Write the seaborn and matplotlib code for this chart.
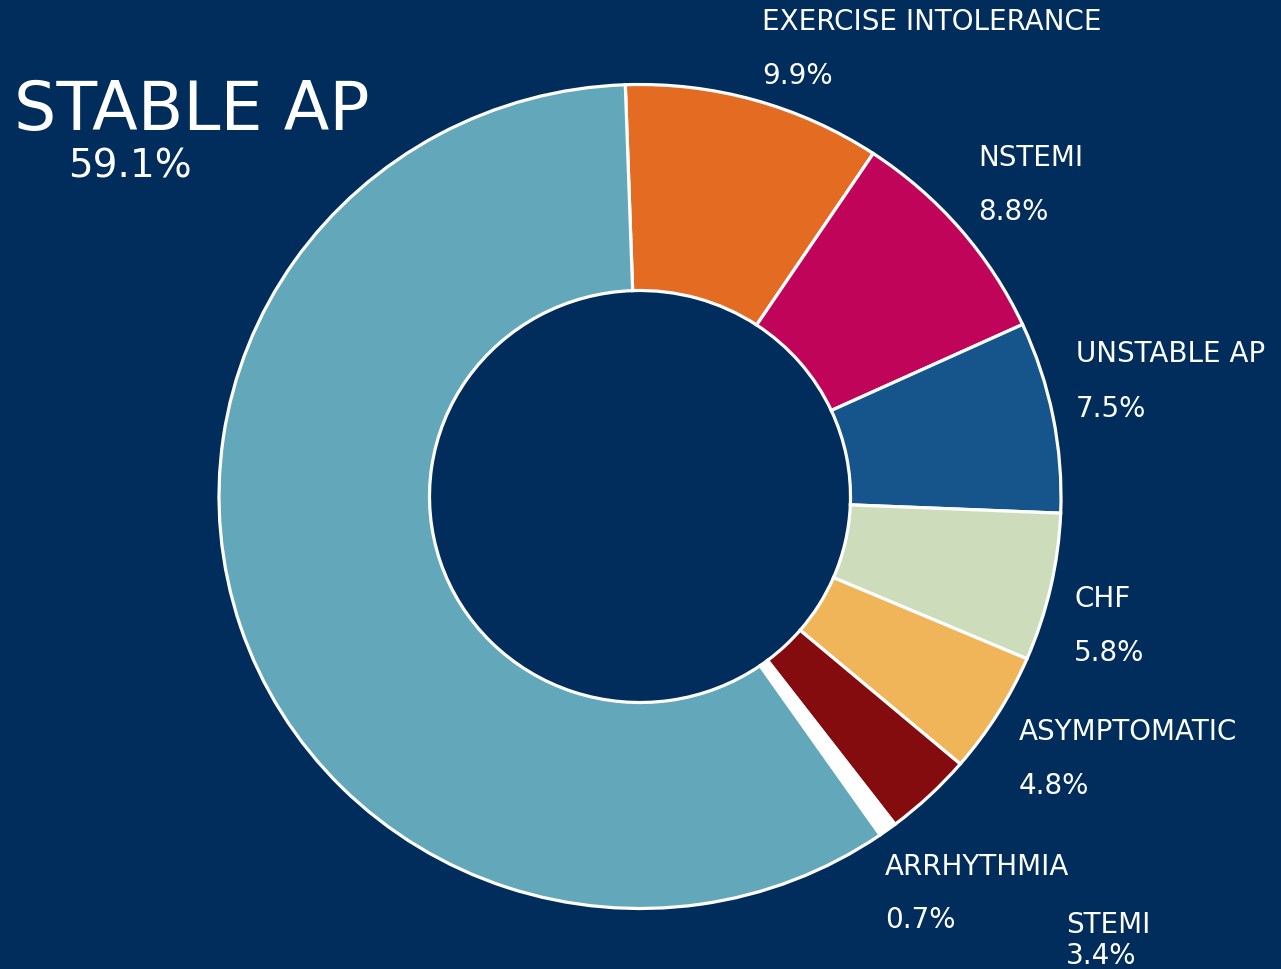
import matplotlib
matplotlib.use('Agg')

import matplotlib.pyplot as plt
import seaborn as sns

# data
labels = ['EXERCISE INTOLERANCE', 'NSTEMI', 'UNSTABLE AP', 'CHF',
          'ASYMPTOMATIC', 'STEMI', 'ARRHYTHMIA', 'STABLE AP']
values = [9.9, 8.8, 7.5, 5.8, 4.8, 3.4, 0.7, 59.1]
colors = ['#E46B22', '#C0045A', '#15558C', '#CDDDBB',
          '#F0B459', '#840C0E', '#FFFFFF', '#63A8BA']

# label anchors in pixel coords (x left, y of name line, y of pct line), top-down
label_pos = {
    'EXERCISE INTOLERANCE': (762, 22, 76),
    'NSTEMI': (978, 158, 212),
    'UNSTABLE AP': (1076, 354, 409),
    'CHF': (1074, 599, 653),
    'ASYMPTOMATIC': (1019, 732, 786),
    'ARRHYTHMIA': (885, 867, 920),
    'STEMI': (1066, 925, 956),
}

BG = '#002D5B'
W, H = 1281, 970
K = 421 / 412  # the reference donut is a touch wider than tall

sns.set_theme(style='white')
plt.rcParams['font.family'] = ['DejaVu Sans']

fig = plt.figure(figsize=(W / 100, H / 100), dpi=100, facecolor=BG)
ax = fig.add_axes([0, 0, 1, 1])
ax.set_facecolor(BG)

cx, cy, r = 640, (H - 497.5) * K, 421
ax.pie(values, colors=colors, startangle=92, counterclock=False,
       center=(cx, cy), radius=r,
       wedgeprops=dict(width=r * 0.5, edgecolor='white', linewidth=2.3))

ax.set_xlim(0, W)
ax.set_ylim(0, H * K)
ax.set_aspect('auto')
ax.axis('off')

def py(y):
    return (H - y) * K

for name, val in zip(labels, values):
    if name not in label_pos:
        continue
    x, y1, y2 = label_pos[name]
    ax.text(x, py(y1), name, color='white', fontsize=20, va='center', ha='left')
    ax.text(x, py(y2), f'{val:.1f}%', color='white', fontsize=20, va='center', ha='left')

# big label for the dominant slice
i = labels.index('STABLE AP')
ax.text(14, py(111), labels[i], color='white', fontsize=48, va='center', ha='left')
ax.text(68, py(166), f'{values[i]:.1f}%', color='white', fontsize=28, va='center', ha='left')

plt.savefig('out.png', dpi=100, facecolor=BG)
plt.close()
